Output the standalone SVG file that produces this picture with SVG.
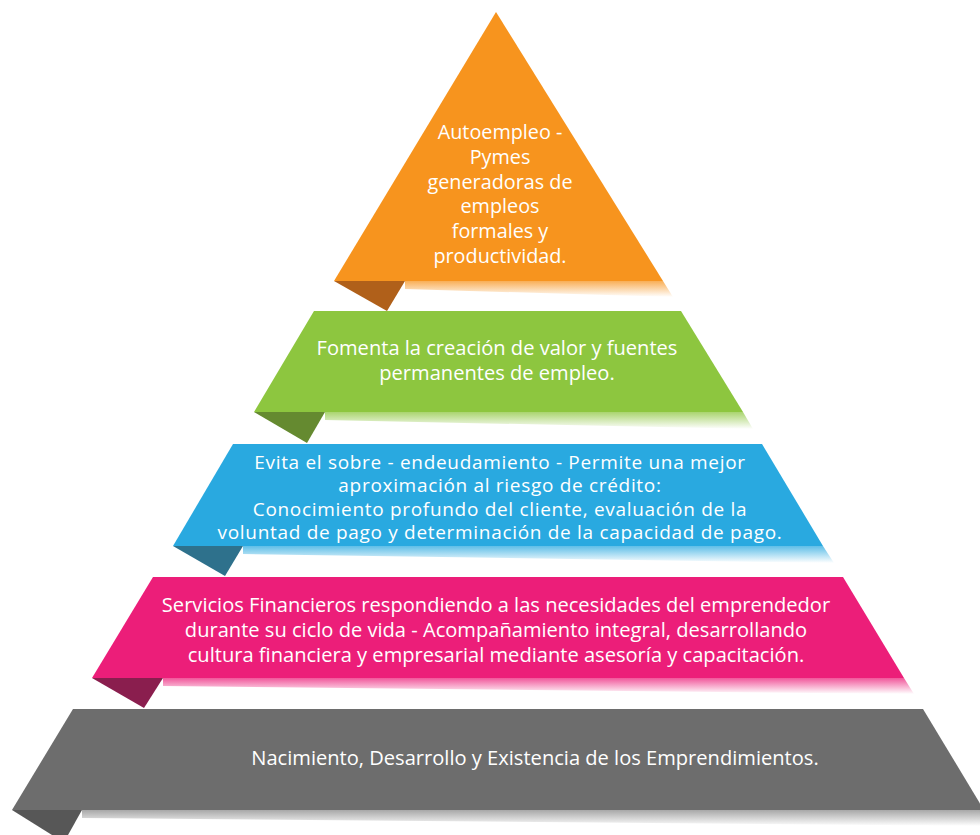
<svg xmlns="http://www.w3.org/2000/svg" width="980" height="835" viewBox="0 0 980 835">
<style>
.t{font-family:"Open Sans","Liberation Sans",sans-serif;font-size:20.1px;fill:#ffffff;text-anchor:middle}
.a{font-size:19.8px}
.s{font-size:19px;letter-spacing:0.69px}
</style>
<defs>
<linearGradient id="gO" x1="0" y1="0" x2="0" y2="1"><stop offset="0" stop-color="#F7941E" stop-opacity="0.75"/><stop offset="1" stop-color="#F7941E" stop-opacity="0"/></linearGradient>
<linearGradient id="gG" x1="0" y1="0" x2="0" y2="1"><stop offset="0" stop-color="#8DC63F" stop-opacity="0.75"/><stop offset="1" stop-color="#8DC63F" stop-opacity="0"/></linearGradient>
<linearGradient id="gB" x1="0" y1="0" x2="0" y2="1"><stop offset="0" stop-color="#29A9E0" stop-opacity="0.75"/><stop offset="1" stop-color="#29A9E0" stop-opacity="0"/></linearGradient>
<linearGradient id="gP" x1="0" y1="0" x2="0" y2="1"><stop offset="0" stop-color="#EC1E79" stop-opacity="0.75"/><stop offset="1" stop-color="#EC1E79" stop-opacity="0"/></linearGradient>
<linearGradient id="gK" x1="0" y1="0" x2="0" y2="1"><stop offset="0" stop-color="#6D6D6D" stop-opacity="0.6"/><stop offset="1" stop-color="#6D6D6D" stop-opacity="0"/></linearGradient>
</defs>
<rect width="980" height="835" fill="#ffffff"/>

<g id="level1">
<polygon points="405,281 663,281 673,297 405,289" fill="url(#gO)"/>
<polygon points="334,281 405,281 387,311" fill="#B0601A"/>
<polygon points="496,12 663,281 334,281" fill="#F7941E"/>
<text class="t a" x="500" y="139">Autoempleo -</text>
<text class="t a" x="500" y="163.8">Pymes</text>
<text class="t a" x="500" y="188.6">generadoras de</text>
<text class="t a" x="500" y="213.4">empleos</text>
<text class="t a" x="500" y="238.2">formales y</text>
<text class="t a" x="500" y="263">productividad.</text>
</g>

<g id="level2">
<polygon points="325,412 743,412 753,429 325,420" fill="url(#gG)"/>
<polygon points="254,412 325,412 307,443" fill="#658A30"/>
<polygon points="314,311 681,311 743,412 254,412" fill="#8DC63F"/>
<text class="t" x="497" y="355">Fomenta la creación de valor y fuentes</text>
<text class="t" x="497" y="380">permanentes de empleo.</text>
</g>

<g id="level3">
<polygon points="243,546 823,546 834,563 243,554" fill="url(#gB)"/>
<polygon points="173,546 243,546 225,576" fill="#2E718C"/>
<polygon points="233,444 762,444 823,546 173,546" fill="#29A9E0"/>
<text class="t s" x="500" y="468.5">Evita el sobre - endeudamiento - Permite una mejor</text>
<text class="t s" x="500" y="492.1">aproximación al riesgo de crédito:</text>
<text class="t s" x="500" y="515.7">Conocimiento profundo del cliente, evaluación de la</text>
<text class="t s" x="500" y="539.3">voluntad de pago y determinación de la capacidad de pago.</text>
</g>

<g id="level4">
<polygon points="163,678 904,678 914,694 163,686" fill="url(#gP)"/>
<polygon points="92,678 163,678 144,708" fill="#8A1E4E"/>
<polygon points="153,577 843,577 904,678 92,678" fill="#EC1E79"/>
<text class="t" x="496" y="612">Servicios Financieros respondiendo a las necesidades del emprendedor</text>
<text class="t" x="496" y="637">durante su ciclo de vida - Acompañamiento integral, desarrollando</text>
<text class="t" x="496" y="662">cultura financiera y empresarial mediante asesoría y capacitación.</text>
</g>

<g id="level5">
<polygon points="82,810 980,810 990,826 82,818" fill="url(#gK)"/>
<polygon points="12,810 82,810 68,835 52,835" fill="#575757"/>
<polygon points="73,709 923,709 984,810 12,810" fill="#6D6D6D"/>
<text class="t" x="535" y="765">Nacimiento, Desarrollo y Existencia de los Emprendimientos.</text>
</g>
</svg>
